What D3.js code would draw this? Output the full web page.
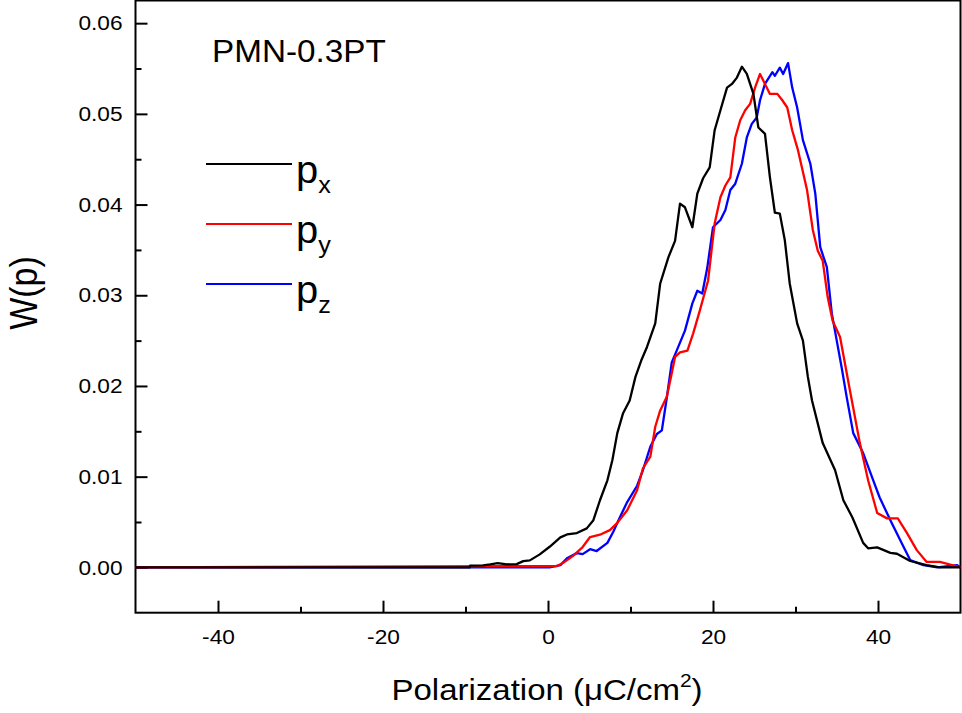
<!DOCTYPE html>
<html>
<head>
<meta charset="utf-8">
<script src="https://cdn.jsdelivr.net/npm/d3@7"></script>
<style>
  body { margin: 0; background: #fff; }
  svg { display: block; font-family: "Liberation Sans", Arial, sans-serif; }
</style>
</head>
<body>
<svg id="chart" width="962" height="713"></svg>
<script>
// polarization values (uC/cm2) and probabilities
var xPx = [-50, -9.5, -9.45, -7.9, -7.0, -6.1, -5.0, -3.8, -3.0, -2.2, -1.0, 0.2, 1.5, 2.3, 3.5, 4.7, 5.5, 6.3, 7.2, 7.8, 8.4, 9.1, 9.9, 10.6, 11.3, 12.0, 13.0, 13.6, 14.6, 15.4, 16.0, 16.6, 17.5, 18.1, 18.8, 19.6, 20.2, 20.9, 21.7, 22.3, 22.9, 23.5, 24.1, 24.9, 25.5, 26.3, 26.9, 27.5, 28.1, 28.7, 29.3, 30.2, 30.9, 31.5, 32.0, 33.3, 34.8, 35.8, 36.9, 38.2, 38.8, 39.9, 41.5, 42.3, 43.9, 45.9, 47.5, 50];
var wPx = [0, 0, 0.00018, 0.00022, 0.00033, 0.00047, 0.00033, 0.00036, 0.00069, 0.00077, 0.00143, 0.00227, 0.0033, 0.00363, 0.00378, 0.0043, 0.0052, 0.0074, 0.0096, 0.0118, 0.0148, 0.017, 0.0184, 0.021, 0.0228, 0.0243, 0.0269, 0.0313, 0.0342, 0.036, 0.0401, 0.0397, 0.0375, 0.0412, 0.0429, 0.0441, 0.0482, 0.0504, 0.0529, 0.0533, 0.054, 0.0552, 0.0544, 0.0522, 0.0485, 0.0478, 0.043, 0.0391, 0.039, 0.0361, 0.0313, 0.0269, 0.025, 0.021, 0.0184, 0.0137, 0.0107, 0.0074, 0.0055, 0.0027, 0.0021, 0.0022, 0.0016, 0.0015, 0.0007, 0.00025, 0, 0];

var xPy = [-50, 1.1, 1.8, 3.0, 4.2, 5.1, 6.3, 7.5, 8.4, 9.6, 10.8, 11.5, 12.4, 13.0, 13.6, 14.4, 15.0, 15.4, 16.0, 16.9, 17.6, 18.4, 19.4, 20.2, 20.9, 21.5, 22.1, 22.7, 23.3, 23.9, 24.5, 25.1, 25.7, 26.3, 26.9, 27.8, 28.4, 29.0, 29.6, 30.3, 31.4, 32.1, 32.7, 33.3, 33.9, 34.5, 35.4, 36.6, 37.8, 38.8, 39.9, 41.1, 42.4, 43.5, 44.7, 45.9, 47.5, 50];
var wPy = [0, 0.00014, 0.00047, 0.00124, 0.00224, 0.00334, 0.0036, 0.0041, 0.0049, 0.0063, 0.0085, 0.0109, 0.0122, 0.0155, 0.0173, 0.0188, 0.0214, 0.0232, 0.0237, 0.0239, 0.0258, 0.0283, 0.0316, 0.0379, 0.0408, 0.0421, 0.043, 0.0474, 0.0493, 0.0504, 0.0511, 0.0529, 0.0544, 0.0533, 0.0522, 0.0522, 0.0515, 0.0507, 0.0482, 0.046, 0.0416, 0.0372, 0.0349, 0.0338, 0.0298, 0.0272, 0.0254, 0.0195, 0.0137, 0.0096, 0.006, 0.0054, 0.0054, 0.0038, 0.0019, 0.0006, 0.0006, 0];

var xPz = [-50, 0.2, 1.5, 2.3, 3.5, 4.2, 5.1, 5.9, 7.2, 7.9, 8.7, 9.6, 10.8, 11.5, 12.4, 13.2, 13.8, 14.4, 15.0, 15.6, 16.6, 17.5, 18.1, 18.7, 19.3, 20.0, 20.9, 21.5, 22.1, 22.7, 23.5, 24.1, 24.7, 25.3, 25.7, 26.3, 27.2, 27.5, 28.1, 28.5, 29.1, 29.6, 30.2, 30.9, 31.8, 32.4, 33.0, 33.8, 34.4, 35.0, 35.6, 36.2, 37.0, 38.2, 39.3, 40.2, 41.5, 42.7, 43.9, 45.5, 47.2, 49.6, 50];
var wPz = [0, 0, 0.00025, 0.001, 0.00157, 0.00146, 0.002, 0.0018, 0.0027, 0.0039, 0.0055, 0.0072, 0.009, 0.0107, 0.0133, 0.0147, 0.0151, 0.0187, 0.0226, 0.0239, 0.0261, 0.0291, 0.0305, 0.0302, 0.033, 0.0375, 0.0383, 0.0394, 0.0416, 0.0423, 0.0445, 0.0474, 0.0489, 0.0496, 0.0515, 0.0533, 0.0546, 0.0542, 0.0551, 0.0544, 0.0556, 0.0529, 0.0507, 0.0471, 0.0445, 0.0412, 0.0353, 0.0331, 0.028, 0.025, 0.022, 0.0188, 0.0148, 0.0126, 0.0099, 0.0077, 0.0052, 0.003, 0.0008, 0.00025, 0, 0.00025, 0];

var seriesNames = ['x', 'y', 'z'];
var seriesColors = ['#000000', '#ff0000', '#0000ff'];
var xTicks = [-40, -20, 0, 20, 40];
var xMinor = [-30, -10, 10, 30];
var yTicks = [0, 0.01, 0.02, 0.03, 0.04, 0.05, 0.06];
var yMinor = [0.005, 0.015, 0.025, 0.035, 0.045, 0.055];

var svg = d3.select('#chart');
var plotLeft = 135.5, plotRight = 960.5, plotTop = 0.5, plotBottom = 612.7;
var stretch = 1.08;

var x = d3.scaleLinear().domain([-50, 50]).range([plotLeft, plotRight]);
var y = d3.scaleLinear().domain([-0.005, 0.0625]).range([plotBottom, plotTop]);

// frame
svg.append('rect')
    .attr('x', plotLeft).attr('y', plotTop)
    .attr('width', plotRight - plotLeft).attr('height', plotBottom - plotTop)
    .attr('fill', 'none').attr('stroke', '#000').attr('stroke-width', 2);

// x axis, ticks pointing inward
var gx = svg.append('g').attr('transform', 'translate(0,' + plotBottom + ')');
gx.call(d3.axisBottom(x).tickValues(xTicks).tickSizeInner(-12).tickSizeOuter(0).tickPadding(16)
    .tickFormat(function (d) { return String(d); }));
gx.append('g').call(d3.axisBottom(x).tickValues(xMinor).tickSizeInner(-6).tickSizeOuter(0).tickFormat(''));

var gy = svg.append('g').attr('transform', 'translate(' + plotLeft + ',0)');
gy.call(d3.axisLeft(y).tickValues(yTicks).tickSizeInner(-12).tickSizeOuter(0).tickPadding(13)
    .tickFormat(function (d) { return d.toFixed(2); }));
gy.append('g').call(d3.axisLeft(y).tickValues(yMinor).tickSizeInner(-6).tickSizeOuter(0).tickFormat(''));

svg.selectAll('.domain').remove();
svg.selectAll('.tick line').attr('stroke', '#000').attr('stroke-width', 2);
svg.selectAll('.tick text')
    .attr('fill', '#000')
    .style('font-size', '21px')
    .style('font-family', '"Liberation Sans", Arial, sans-serif');
gx.selectAll('.tick text').attr('transform', 'scale(' + stretch + ',1)');
gy.selectAll('.tick text').attr('x', -13 / stretch).attr('transform', 'scale(' + stretch + ',1)');

// curves
var line = d3.line()
    .x(function (d) { return x(d[0]); })
    .y(function (d) { return y(d[1]); });

var curves = [
    { xs: xPz, ws: wPz, color: seriesColors[2] },
    { xs: xPy, ws: wPy, color: seriesColors[1] },
    { xs: xPx, ws: wPx, color: seriesColors[0] }
];
curves.forEach(function (c) {
    svg.append('path')
        .datum(d3.zip(c.xs, c.ws))
        .attr('d', line)
        .attr('fill', 'none')
        .attr('stroke', c.color)
        .attr('stroke-width', 2.3)
        .attr('stroke-linejoin', 'round');
});

// title inside the plot
svg.append('text')
    .attr('transform', 'translate(212,62) scale(1.04,1)')
    .style('font-size', '32px')
    .text('PMN-0.3PT');

// legend
var legend = svg.append('g');
seriesNames.forEach(function (name, i) {
    var ly = 164 + i * 60;
    legend.append('line')
        .attr('x1', 206).attr('x2', 292)
        .attr('y1', ly).attr('y2', ly)
        .attr('stroke', seriesColors[i]).attr('stroke-width', 2);
    var t = legend.append('text')
        .attr('transform', 'translate(296,' + (ly + 19) + ') scale(1.05,1)')
        .style('font-size', '38px');
    t.append('tspan').text('p');
    t.append('tspan').attr('dy', 10).style('font-size', '24px').text(name);
});

// axis titles
var xt = svg.append('text')
    .attr('transform', 'translate(547,700) scale(1.1,1)')
    .attr('text-anchor', 'middle')
    .style('font-size', '30px');
xt.append('tspan').text('Polarization (\u03bcC/cm');
xt.append('tspan').attr('dy', -13).style('font-size', '19px').text('2');
xt.append('tspan').attr('dy', 13).text(')');

svg.append('text')
    .attr('transform', 'translate(37,293) scale(1.12,1) rotate(-90)')
    .attr('text-anchor', 'middle')
    .style('font-size', '34px')
    .text('W(p)');
</script>
</body>
</html>
